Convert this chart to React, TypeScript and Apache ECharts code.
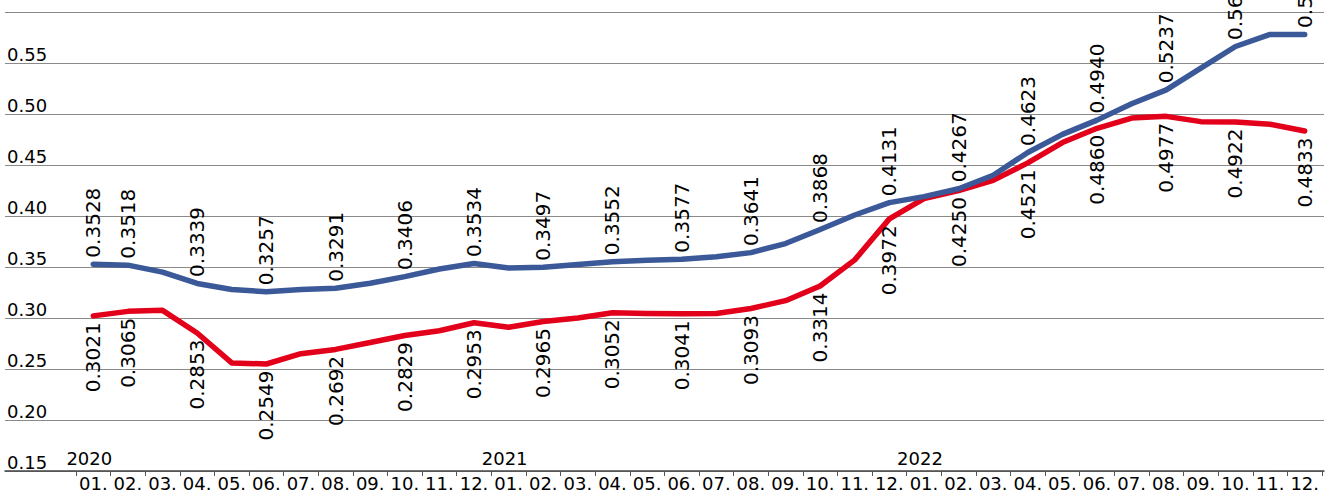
import React, { useEffect, useRef } from "react";
import * as echarts from "echarts";

const years = ["2020", "2021", "2022"];
const months = ["01.", "02.", "03.", "04.", "05.", "06.", "07.", "08.", "09.", "10.", "11.", "12."];

const blueValues = [
  0.3528, 0.3518, 0.345, 0.3339, 0.328, 0.3257, 0.328, 0.3291, 0.334, 0.3406, 0.348, 0.3534,
  0.349, 0.3497, 0.3525, 0.3552, 0.3565, 0.3577, 0.36, 0.3641, 0.373, 0.3868, 0.401, 0.4131,
  0.419, 0.4267, 0.44, 0.4623, 0.48, 0.494, 0.51, 0.5237, 0.545, 0.5662, 0.578, 0.578,
];
const redValues = [
  0.3021, 0.3065, 0.3075, 0.2853, 0.256, 0.2549, 0.265, 0.2692, 0.276, 0.2829, 0.2875, 0.2953,
  0.291, 0.2965, 0.3, 0.3052, 0.3045, 0.3041, 0.3045, 0.3093, 0.317, 0.3314, 0.357, 0.3972,
  0.417, 0.425, 0.435, 0.4521, 0.472, 0.486, 0.496, 0.4977, 0.4925, 0.4922, 0.49, 0.4833,
];

const yMin = 0.15;
const yMax = 0.6;
const yStep = 0.05;

const categories = years.flatMap((y) => months.map((m) => `${y}-${m}`));

const FONT = "DejaVu Sans";
const BLUE = "#3b5998";
const RED = "#e2001a";
const TEXT = "#000000";

const showLabel = (i: number) => i === 0 || i % 2 === 1;

export default function App() {
  const ref = useRef<HTMLDivElement>(null);
  useEffect(() => {
    if (!ref.current) return;
    const chart = echarts.init(ref.current, null, { renderer: "svg" });
    chart.setOption({
      animation: false,
      backgroundColor: "#ffffff",
      grid: [
        { left: 76, right: 10, top: 12, bottom: 25, containLabel: false },
        { left: 5, right: 8, top: 12, bottom: 25, containLabel: false },
      ],
      xAxis: [
        {
          type: "category",
          gridIndex: 0,
          data: categories,
          boundaryGap: true,
          axisLine: { show: false },
          axisTick: { show: true, alignWithLabel: false, length: 5, lineStyle: { color: "#555", width: 1 } },
          axisLabel: {
            interval: 0,
            margin: 3,
            fontFamily: FONT,
            fontSize: 18,
            color: TEXT,
            formatter: (v: string) => v.split("-")[1],
          },
          splitLine: { show: false },
        },
        {
          type: "category",
          gridIndex: 0,
          position: "bottom",
          data: categories,
          boundaryGap: true,
          axisLine: { show: false },
          axisTick: { show: false },
          axisLabel: {
            interval: 0,
            margin: -22,
            fontFamily: FONT,
            fontSize: 18,
            color: TEXT,
            padding: [0, 8, 0, 0],
            formatter: (v: string) => (v.endsWith("-01.") ? v.split("-")[0] : ""),
          },
          splitLine: { show: false },
        },
        {
          type: "value",
          gridIndex: 1,
          min: 0,
          max: 1,
          axisLine: { show: true, onZero: false, lineStyle: { color: "#444", width: 1.5 } },
          axisTick: { show: false },
          axisLabel: { show: false },
          splitLine: { show: false },
        },
      ],
      yAxis: [
        {
          type: "value",
          gridIndex: 1,
          min: yMin,
          max: yMax,
          interval: yStep,
          axisLine: { show: false },
          axisTick: { show: false },
          axisLabel: {
            inside: true,
            margin: 2,
            verticalAlign: "bottom",
            align: "left",
            fontFamily: FONT,
            fontSize: 18,
            color: TEXT,
            formatter: (v: number) => (v >= yMax - 1e-9 ? "" : v.toFixed(2)),
          },
          splitLine: { show: true, lineStyle: { color: "#8a8a8a", width: 1 } },
        },
        {
          type: "value",
          gridIndex: 0,
          min: yMin,
          max: yMax,
          interval: yStep,
          show: false,
          splitLine: { show: false },
        },
      ],
      series: [
        {
          type: "line",
          name: "red",
          xAxisIndex: 0,
          yAxisIndex: 1,
          data: redValues,
          symbol: "circle",
          symbolSize: 1,
          showSymbol: true,
          itemStyle: { color: RED },
          lineStyle: { color: RED, width: 5.5, cap: "round", join: "round" },
          label: {
            show: true,
            position: "bottom",
            rotate: 90,
            align: "right",
            verticalAlign: "middle",
            distance: 6,
            fontFamily: FONT,
            fontSize: 20,
            color: TEXT,
            formatter: (p: any) => (showLabel(p.dataIndex) ? Number(p.value).toFixed(4) : ""),
          },
          z: 3,
        },
        {
          type: "line",
          name: "blue",
          xAxisIndex: 0,
          yAxisIndex: 1,
          data: blueValues,
          symbol: "circle",
          symbolSize: 1,
          showSymbol: true,
          itemStyle: { color: BLUE },
          lineStyle: { color: BLUE, width: 5.5, cap: "round", join: "round" },
          label: {
            show: true,
            position: "top",
            rotate: 90,
            align: "left",
            verticalAlign: "middle",
            distance: 6,
            fontFamily: FONT,
            fontSize: 20,
            color: TEXT,
            formatter: (p: any) => (showLabel(p.dataIndex) ? Number(p.value).toFixed(4) : ""),
          },
          z: 4,
        },
      ],
    });
    return () => chart.dispose();
  }, []);
  return (
    <div
      ref={ref}
      style={{ position: "absolute", left: 0, top: 0, width: 1332, height: 496 }}
    />
  );
}
